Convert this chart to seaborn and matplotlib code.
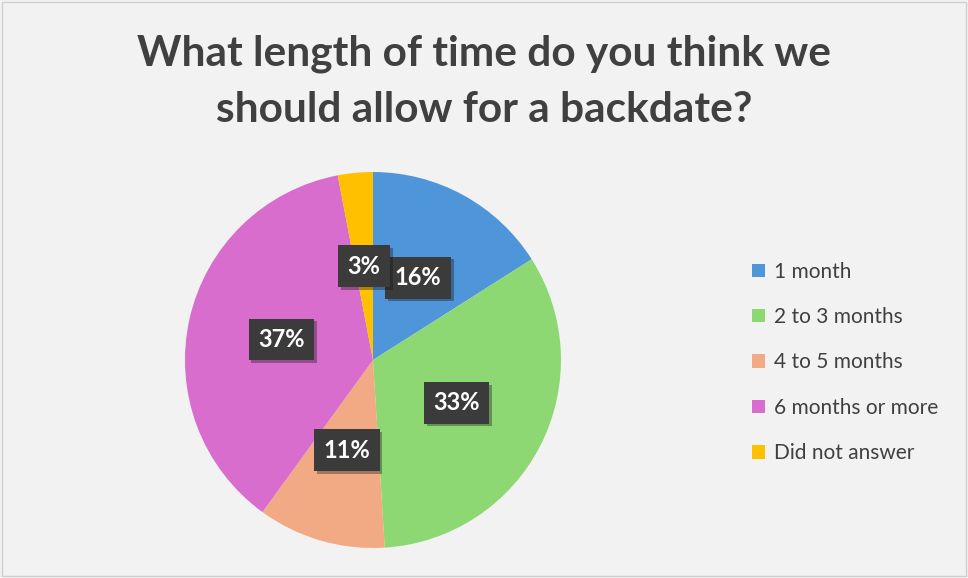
import matplotlib.pyplot as plt
import matplotlib.patheffects as pe
import seaborn as sns

# survey answers (share of respondents, %)
categories = ['1 month', '2 to 3 months', '4 to 5 months', '6 months or more', 'Did not answer']
shares = [16, 33, 11, 37, 3]
slice_colors = ['#4E95D9', '#8ED873', '#F2AA84', '#D86DCD', '#FFC000']
title = 'What length of time do you think we\nshould allow for a backdate?'

sns.set_theme(style="white")
plt.rcParams['font.family'] = ['Lato', 'DejaVu Sans']

fig = plt.figure(figsize=(9.68, 5.78), dpi=100, facecolor='#F2F2F2')
ax = fig.add_axes([0.1911, 0.0519, 0.3884, 0.6505])
ax.set_facecolor('#F2F2F2')

wedges, texts, autotexts = ax.pie(
    shares, colors=sns.color_palette(slice_colors), startangle=90, counterclock=False,
    autopct=lambda p: f'{p:.0f}%', pctdistance=0.5,
    wedgeprops=dict(linewidth=0), textprops=dict(color='white', fontsize=17, fontweight='bold'))
ax.set_xlim(-1, 1)
ax.set_ylim(-1, 1)
ax.set_aspect('equal')

for t in autotexts:
    t.set_bbox(dict(boxstyle='square,pad=0.4', facecolor='#3B3B3B', edgecolor='none'))
    t.get_bbox_patch().set_path_effects([pe.withSimplePatchShadow(offset=(2, -2), alpha=0.35), pe.Normal()])

fig.text(0.5, 0.858, title, ha='center', va='center', fontsize=30.5, fontweight='bold',
         color='#404040', linespacing=1.58)

fig.legend(wedges, categories, loc='center left', bbox_to_anchor=(0.777, 0.373), frameon=False,
           fontsize=15, labelcolor='#404040', handlelength=0.6, handleheight=0.6,
           handletextpad=0.45, labelspacing=1.22, borderpad=0, borderaxespad=0)

# thin border around the chart area
fig.patches.append(plt.Rectangle((0.002, 0.003), 0.996, 0.994, transform=fig.transFigure,
                                 fill=False, edgecolor='#D0D0D0', linewidth=1))

plt.savefig('out.png', facecolor=fig.get_facecolor())
plt.close()
